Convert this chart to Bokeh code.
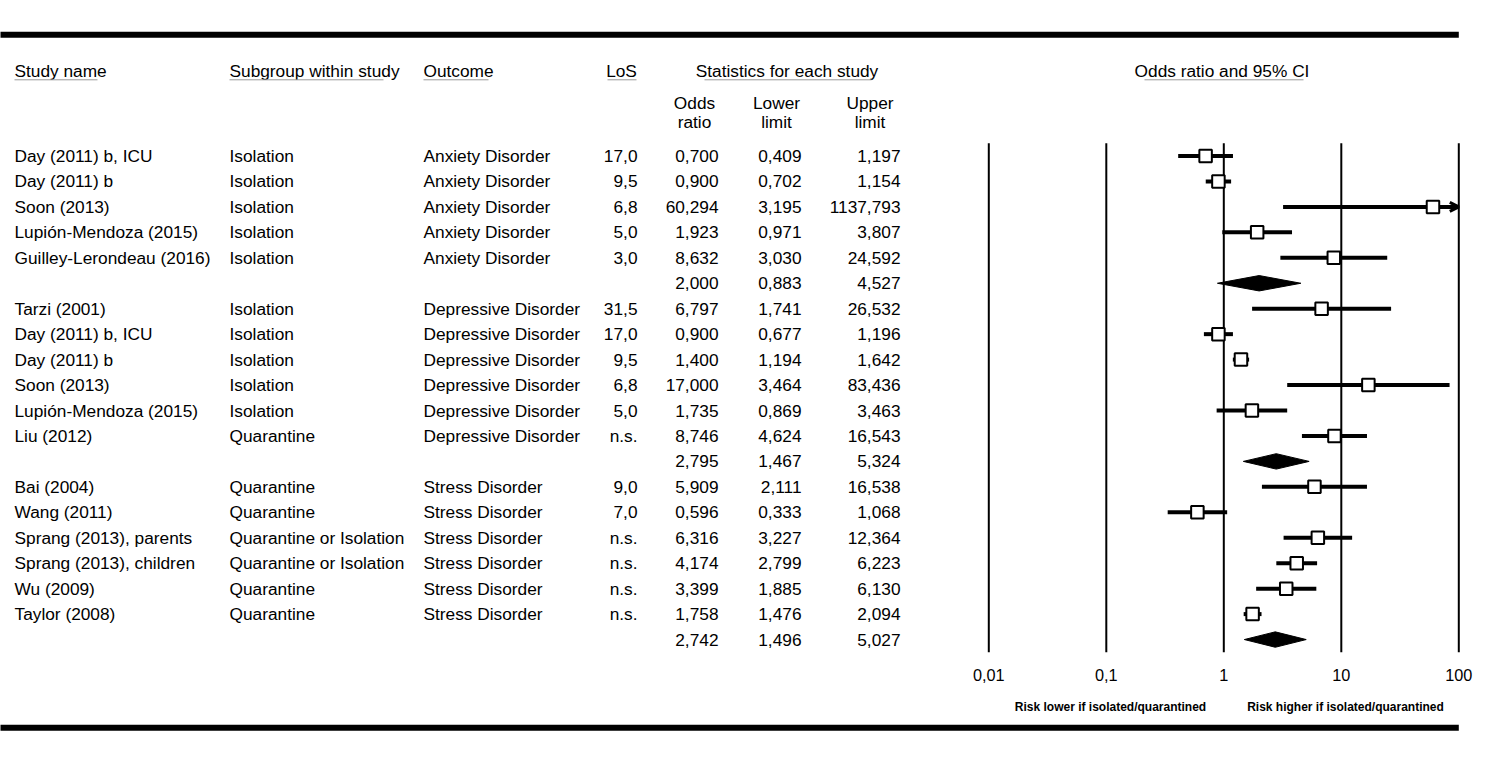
from bokeh.plotting import figure
from bokeh.models import Range1d, ColumnDataSource, Arrow, OpenHead, LogScale
from bokeh.core.properties import value
from bokeh.embed import file_html
from bokeh.resources import INLINE

# ---------------- data ----------------
study = ["Day (2011) b, ICU", "Day (2011) b", "Soon (2013)", "Lupión-Mendoza (2015)",
         "Guilley-Lerondeau (2016)", "",
         "Tarzi (2001)", "Day (2011) b, ICU", "Day (2011) b", "Soon (2013)",
         "Lupión-Mendoza (2015)", "Liu (2012)", "",
         "Bai (2004)", "Wang (2011)", "Sprang (2013), parents", "Sprang (2013), children",
         "Wu (2009)", "Taylor (2008)", ""]
subgroup = ["Isolation"] * 5 + [""] + ["Isolation"] * 5 + ["Quarantine", ""] + \
           ["Quarantine", "Quarantine", "Quarantine or Isolation", "Quarantine or Isolation",
            "Quarantine", "Quarantine", ""]
outcome = ["Anxiety Disorder"] * 5 + [""] + ["Depressive Disorder"] * 6 + [""] + \
          ["Stress Disorder"] * 6 + [""]
los = ["17,0", "9,5", "6,8", "5,0", "3,0", "",
       "31,5", "17,0", "9,5", "6,8", "5,0", "n.s.", "",
       "9,0", "7,0", "n.s.", "n.s.", "n.s.", "n.s.", ""]
odds_ratio = [0.700, 0.900, 60.294, 1.923, 8.632, 2.000,
              6.797, 0.900, 1.400, 17.000, 1.735, 8.746, 2.795,
              5.909, 0.596, 6.316, 4.174, 3.399, 1.758, 2.742]
lower_limit = [0.409, 0.702, 3.195, 0.971, 3.030, 0.883,
               1.741, 0.677, 1.194, 3.464, 0.869, 4.624, 1.467,
               2.111, 0.333, 3.227, 2.799, 1.885, 1.476, 1.496]
upper_limit = [1.197, 1.154, 1137.793, 3.807, 24.592, 4.527,
               26.532, 1.196, 1.642, 83.436, 3.463, 16.543, 5.324,
               16.538, 1.068, 12.364, 6.223, 6.130, 2.094, 5.027]
is_summary = [False] * 5 + [True] + [False] * 6 + [True] + [False] * 6 + [True]
axis_ticks = [0.01, 0.1, 1, 10, 100]
axis_labels = ["0,01", "0,1", "1", "10", "100"]
col_headers = ["Study name", "Subgroup within study", "Outcome", "LoS", "Statistics for each study"]
stat_headers = [("Odds", "ratio"), ("Lower", "limit"), ("Upper", "limit")]
plot_header = "Odds ratio and 95% CI"
risk_labels = ["Risk lower if isolated/quarantined", "Risk higher if isolated/quarantined"]

# ---------------- layout constants ----------------
FONT = value("Liberation Sans")
TXT = "17.3px"
TOTAL_W, TOTAL_H = 1482, 754
ROW1_Y, ROW_H = 155.5, 25.45
ONE_PX, DECADE_PX = 1223.3, 117.5


def yrow(page_y):
    return 1 + (page_y - ROW1_Y) / ROW_H


def xval(page_x):
    return 10 ** ((page_x - ONE_PX) / DECADE_PX)


def fmt(v):
    return f"{v:.3f}".replace(".", ",")


rows = list(range(1, len(study) + 1))

p = figure(width=TOTAL_W, height=TOTAL_H, x_range=Range1d(0, TOTAL_W),
           y_range=Range1d(yrow(TOTAL_H), yrow(0)),
           x_axis_location=None, y_axis_location=None,
           toolbar_location=None, output_backend="svg", min_border=0)
p.extra_x_ranges = {"or": Range1d(xval(0), xval(TOTAL_W))}
p.extra_x_scales = {"or": LogScale()}
p.outline_line_color = None
p.grid.visible = False

# ---------------- thick rules ----------------
top_y, bot_y = yrow(34.2), yrow(727.3)
x_hi = axis_ticks[-1]
p.segment(x0=[xval(-5)] * 2, x1=[x_hi] * 2, y0=[top_y, bot_y], y1=[top_y, bot_y],
          line_width=6, line_color="black", line_cap="butt", x_range_name="or")

# ---------------- table ----------------
src = ColumnDataSource(dict(
    row=rows, study=study, subgroup=subgroup, outcome=outcome, los=los,
    or_t=[fmt(v) for v in odds_ratio], lo_t=[fmt(v) for v in lower_limit],
    up_t=[fmt(v) for v in upper_limit]))

for field, xpos, align in [("study", 14, "left"), ("subgroup", 229, "left"),
                           ("outcome", 423, "left"), ("los", 637, "right"),
                           ("or_t", 718, "right"), ("lo_t", 801, "right"),
                           ("up_t", 900, "right")]:
    p.text(x=xpos, y="row", text=field, source=src, text_font=FONT, text_font_size=TXT,
           text_align=align, text_baseline="middle", text_color="black")

hdr_y = yrow(70)
hdr_x = [14, 229, 423, 621, 786.5]
hdr_align = ["left", "left", "left", "center", "center"]
for t, xx, al in zip(col_headers, hdr_x, hdr_align):
    p.text(x=[xx], y=[hdr_y], text=[t], text_font=FONT, text_font_size=TXT,
           text_align=al, text_baseline="middle", text_color="black")

ul_y = yrow(79.3)
ul_spans = [(14, 97), (229, 383), (423, 488), (607, 636), (704, 871), (1144, 1303)]
p.segment(x0=[a for a, b in ul_spans], x1=[b for a, b in ul_spans],
          y0=[ul_y] * len(ul_spans), y1=[ul_y] * len(ul_spans),
          line_color="#9a9a9a", line_width=1)

stat_x = [694, 776, 869.5]
for (l1, l2), xx in zip(stat_headers, stat_x):
    p.text(x=[xx, xx], y=[yrow(102), yrow(121)], text=[l1, l2], text_font=FONT,
           text_font_size=TXT, text_align="center", text_baseline="middle",
           text_color="black")

p.text(x=[1221.5], y=[hdr_y], text=[plot_header], text_font=FONT,
       text_font_size=TXT, text_align="center", text_baseline="middle", text_color="black")

# ---------------- forest plot ----------------
p.segment(x0=axis_ticks, x1=axis_ticks, y0=[yrow(142.7)] * len(axis_ticks),
          y1=[yrow(651.7)] * len(axis_ticks), line_color="black", line_width=2,
          x_range_name="or")

p.text(x=axis_ticks, y=[yrow(674.5)] * len(axis_ticks), text=axis_labels,
       text_font=FONT, text_font_size="16.3px", text_align="center",
       text_baseline="middle", text_color="black", x_range_name="or")

p.text(x=[xval(1110), xval(1345)], y=[yrow(706.7)] * 2, text=risk_labels,
       text_font=FONT, text_font_size="12px", text_font_style="bold",
       text_align="center", text_baseline="middle", text_color="black", x_range_name="or")

st_idx = [i for i in range(len(rows)) if not is_summary[i]]
st_src = ColumnDataSource(dict(
    y=[rows[i] for i in st_idx],
    orr=[odds_ratio[i] for i in st_idx],
    lo=[lower_limit[i] for i in st_idx],
    up=[min(upper_limit[i], x_hi) for i in st_idx]))
p.segment(x0="lo", x1="up", y0="y", y1="y", source=st_src, line_color="black",
          line_width=4, line_cap="butt", x_range_name="or")
p.scatter(x="orr", y="y", source=st_src, marker="square", size=12.5,
          fill_color="white", line_color="black", line_width=2, x_range_name="or")

ar_idx = [i for i in st_idx if upper_limit[i] > x_hi]
if ar_idx:
    ar_src = ColumnDataSource(dict(
        x0=[odds_ratio[i] for i in ar_idx], x1=[x_hi] * len(ar_idx),
        y=[rows[i] for i in ar_idx]))
    p.add_layout(Arrow(x_start="x0", x_end="x1", y_start="y", y_end="y", source=ar_src,
                       line_color=None, x_range_name="or",
                       end=OpenHead(size=9, line_width=3, line_color="black")))

HALF_H = 7.7 / ROW_H
sm_idx = [i for i in range(len(rows)) if is_summary[i]]
xs = [[lower_limit[i], odds_ratio[i], upper_limit[i], odds_ratio[i]] for i in sm_idx]
ys = [[rows[i], rows[i] - HALF_H, rows[i], rows[i] + HALF_H] for i in sm_idx]
p.patches(xs=xs, ys=ys, fill_color="black", line_color="black", line_width=1,
          x_range_name="or")

open("out.html", "w").write(file_html(p, INLINE))
